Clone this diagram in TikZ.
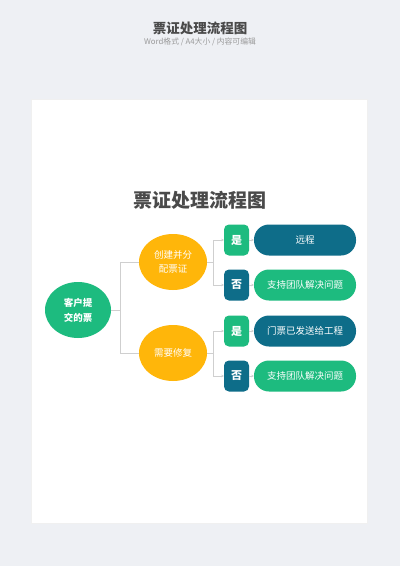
\documentclass[tikz,border=0pt]{standalone}
\usepackage{fontspec}
\setmainfont{Noto Sans CJK SC}
\usetikzlibrary{shapes.geometric,arrows.meta}
\definecolor{bg}{HTML}{EEF0F4}
\definecolor{gr}{HTML}{1DBB7F}
\definecolor{tl}{HTML}{0E6D89}
\definecolor{og}{HTML}{FFB60A}
\definecolor{ttl}{HTML}{4A4A4A}
\definecolor{sub}{HTML}{9A9A9A}
\definecolor{ln}{HTML}{CFCFCF}
\tikzset{
  oval/.style={ellipse,draw=none,inner sep=0pt,text=white,align=center},
  rootnode/.style={oval,fill=gr,minimum width=66pt,minimum height=56pt,font=\bfseries\fontsize{9.5}{15}\selectfont},
  midnode/.style={oval,fill=og,minimum width=68pt,minimum height=56pt,font=\fontsize{9.5}{14}\selectfont},
  yesno/.style={rectangle,rounded corners=5pt,minimum width=25pt,minimum height=31pt,inner sep=0pt,text=white,font=\bfseries\fontsize{11}{12}\selectfont},
  pill/.style={rectangle,rounded corners=15pt,minimum width=102pt,minimum height=31pt,inner sep=0pt,text=white,font=\fontsize{9.5}{12}\selectfont},
  conn/.style={draw=ln,line width=0.8pt},
  tip/.style={conn,-{Stealth[length=2.5pt,width=2.5pt]}}
}
\begin{document}
\begin{tikzpicture}[x=1pt,y=-1pt]
\useasboundingbox (0,0) rectangle (400,566);
\fill[bg] (0,0) rectangle (400,566);
\fill[black!6] (31,99) rectangle (368,524);
\fill[white] (32,100) rectangle (367,523);
\node[text=ttl,font=\bfseries\fontsize{13.5}{14}\selectfont] (htitle) at (200,28) {票证处理流程图};
\node[text=sub,font=\fontsize{7.8}{8}\selectfont] (hsub) at (200,42) {Word格式 / A4大小 / 内容可编辑};
\node[text=ttl,font=\bfseries\fontsize{19}{20}\selectfont] (title) at (200,200) {票证处理流程图};
\node[rootnode] (root) at (78,310) {客户提\\交的票};
\node[midnode] (m1) at (173,262) {创建并分\\配票证};
\node[midnode] (m2) at (173,353) {需要修复};
\node[yesno,fill=gr] (y1) at (236.5,240) {是};
\node[yesno,fill=tl] (n1) at (236.5,285) {否};
\node[yesno,fill=gr] (y2) at (236.5,331) {是};
\node[yesno,fill=tl] (n2) at (236.5,376) {否};
\node[pill,fill=tl] (p1) at (305,240) {远程};
\node[pill,fill=gr] (p2) at (305,285) {支持团队解决问题};
\node[pill,fill=tl] (p3) at (305,331) {门票已发送给工程};
\node[pill,fill=gr] (p4) at (305,376) {支持团队解决问题};
\draw[conn] (root.east) -- ++(9,0) |- (m1.west);
\draw[conn] (root.east) -- ++(9,0) |- (m2.west);
\draw[tip] (m1.east) -- ++(6,0) |- (y1.west);
\draw[tip] (m1.east) -- ++(6,0) |- (n1.west);
\draw[tip] (m2.east) -- ++(6,0) |- (y2.west);
\draw[tip] (m2.east) -- ++(6,0) |- (n2.west);
\draw[tip] (y1.east) -- (p1.west);
\draw[tip] (n1.east) -- (p2.west);
\draw[tip] (y2.east) -- (p3.west);
\draw[tip] (n2.east) -- (p4.west);
\end{tikzpicture}
\end{document}
